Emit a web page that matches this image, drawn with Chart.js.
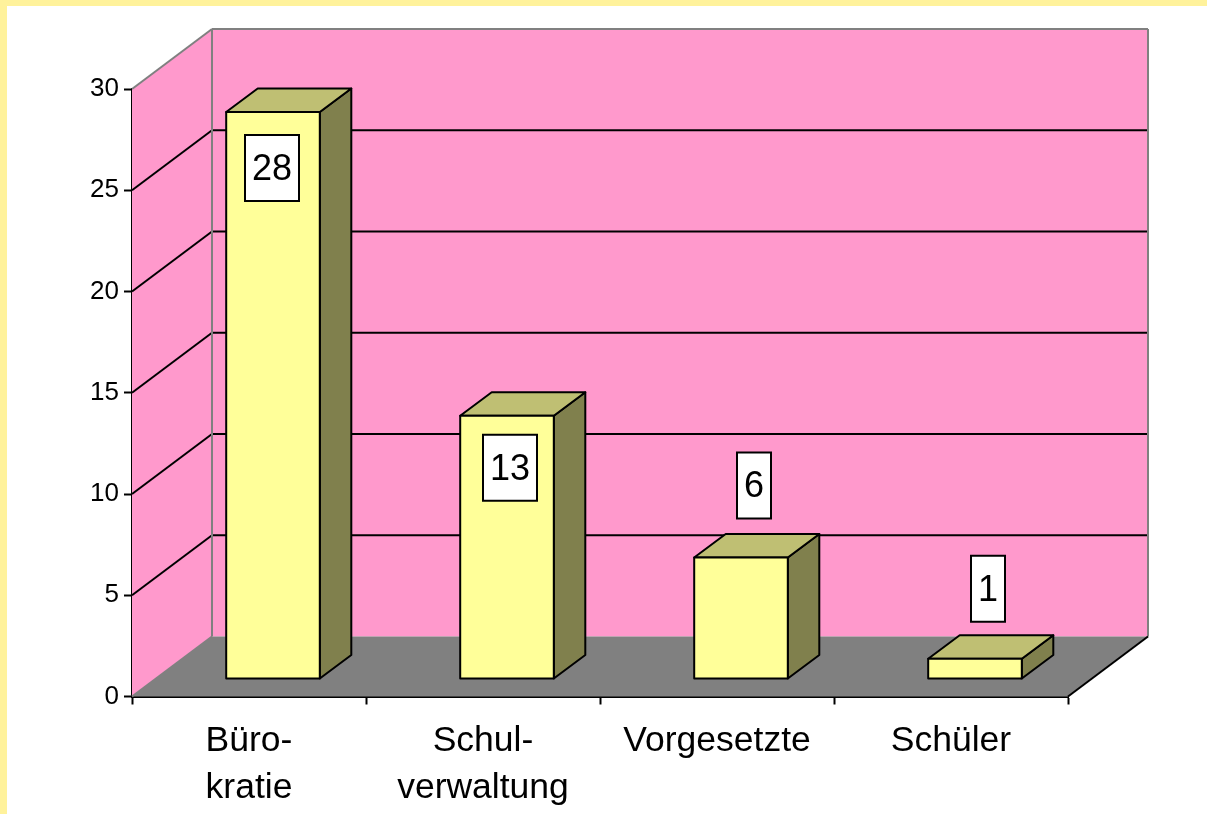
<!DOCTYPE html>
<html>
<head>
<meta charset="utf-8">
<style>
    html, body { margin: 0; height: 100%; overflow: hidden; background: #fff; }
    #strip-top { position: absolute; left: 0; top: 0; width: 100%; height: 6px; background: #fff29b; }
    #strip-left { position: absolute; left: 0; top: 0; width: 7px; height: 100%; background: #fff29b; }
    canvas { position: absolute; left: 0; top: 0; }
</style>
<script src="https://cdn.jsdelivr.net/npm/chart.js@4/dist/chart.umd.min.js"></script>
</head>
<body>
<div id="strip-top"></div>
<div id="strip-left"></div>
<canvas id="chart" width="1207" height="814"></canvas>
<script>
const categories = [['Büro-', 'kratie'], ['Schul-', 'verwaltung'], 'Vorgesetzte', 'Schüler'];
const counts = [28, 13, 6, 1];
const axisMax = 30;
const axisStep = 5;

// label boxes were moved by hand in the original, so each one has its own shift from the bar
const labelShiftX = [-1, 3, 13, 13];
const labelShiftY = [56, 52, -72, -70];

const FONT = '"Liberation Sans", Arial, sans-serif';

const wallDepthX = 80;
const wallDepthY = 60;
const barShiftX = 24;
const barShiftY = 17.5;
const barDepthX = 31.5;
const barDepthY = 23.5;
const LINE = 2;

const polygon = (ctx, points, fill, stroke, lineWidth) => {
    ctx.beginPath();
    points.forEach(([x, y], i) => i ? ctx.lineTo(x, y) : ctx.moveTo(x, y));
    ctx.closePath();
    ctx.fillStyle = fill;
    ctx.fill();
    if (stroke) {
        ctx.strokeStyle = stroke;
        ctx.lineWidth = lineWidth;
        ctx.lineJoin = 'round';
        ctx.stroke();
    }
};

const line = (ctx, x1, y1, x2, y2, color, width) => {
    ctx.beginPath();
    ctx.moveTo(x1, y1);
    ctx.lineTo(x2, y2);
    ctx.strokeStyle = color;
    ctx.lineWidth = width;
    ctx.stroke();
};

const walls = {
    id: 'walls',
    beforeDatasetsDraw(chart) {
        const { ctx, chartArea: { left, right, top, bottom }, scales: { y } } = chart;
        const dx = wallDepthX;
        const dy = wallDepthY;
        ctx.save();
        // back and side wall
        polygon(ctx, [[left + dx, top - dy], [right + dx, top - dy], [right + dx, bottom - dy], [left + dx, bottom - dy]], '#ff99cc');
        polygon(ctx, [[left, top], [left + dx, top - dy], [left + dx, bottom - dy], [left, bottom]], '#ff99cc');
        // gridlines
        y.ticks.forEach(tick => {
            if (tick.value === 0 || tick.value === axisMax) return;
            const py = y.getPixelForValue(tick.value);
            line(ctx, left, py, left + dx, py - dy, '#000', LINE);
            line(ctx, left + dx, py - dy, right + dx, py - dy, '#000', LINE);
        });
        // floor
        polygon(ctx, [[left, bottom], [left + dx, bottom - dy], [right + dx, bottom - dy], [right, bottom]], '#808080');
        // wall edges
        line(ctx, left, top, left + dx, top - dy, '#808080', LINE);
        line(ctx, left + dx, top - dy, right + dx, top - dy, '#808080', LINE);
        line(ctx, left + dx, top - dy, left + dx, bottom - dy, '#808080', LINE);
        line(ctx, right + dx, top - dy, right + dx, bottom - dy, '#808080', LINE);
        line(ctx, left, bottom, left + dx, bottom - dy, '#808080', LINE);
        line(ctx, right, bottom, right + dx, bottom - dy, '#000', LINE);
        ctx.restore();
    }
};

const bars3d = {
    id: 'bars3d',
    beforeDatasetDraw(chart, args) {
        const { ctx } = chart;
        ctx.save();
        ctx.translate(barShiftX, -barShiftY);
        args.meta.data.forEach(bar => {
            const x1 = bar.x - bar.width / 2;
            const x2 = bar.x + bar.width / 2;
            polygon(ctx, [[x2, bar.y], [x2 + barDepthX, bar.y - barDepthY], [x2 + barDepthX, bar.base - barDepthY], [x2, bar.base]], '#80804d', '#000', LINE);
            polygon(ctx, [[x1, bar.y], [x1 + barDepthX, bar.y - barDepthY], [x2 + barDepthX, bar.y - barDepthY], [x2, bar.y]], '#bfbf73', '#000', LINE);
        });
    },
    afterDatasetDraw(chart, args) {
        const { ctx } = chart;
        // outline of the front faces, still in the shifted bar plane
        args.meta.data.forEach(bar => {
            ctx.strokeStyle = '#000';
            ctx.lineWidth = LINE;
            ctx.strokeRect(bar.x - bar.width / 2, bar.y, bar.width, bar.base - bar.y);
        });
        ctx.restore();
        ctx.save();
        ctx.font = `36px ${FONT}`;
        ctx.textAlign = 'center';
        ctx.textBaseline = 'middle';
        args.meta.data.forEach((bar, i) => {
            const text = String(counts[i]);
            const cx = bar.x + barShiftX + labelShiftX[i];
            const cy = bar.y - barShiftY + labelShiftY[i];
            const w = text.length > 1 ? 54 : 34;
            ctx.fillStyle = '#fff';
            ctx.fillRect(cx - w / 2, cy - 33, w, 66);
            ctx.strokeStyle = '#000';
            ctx.lineWidth = LINE;
            ctx.strokeRect(cx - w / 2, cy - 33, w, 66);
            ctx.fillStyle = '#000';
            ctx.fillText(text, cx, cy + 2);
        });
        ctx.restore();
    }
};

new Chart(document.getElementById('chart'), {
    type: 'bar',
    data: {
        labels: categories,
        datasets: [{
            data: counts,
            backgroundColor: '#ffff99',
            borderWidth: 0,
            categoryPercentage: 0.4,
            barPercentage: 1,
            clip: false
        }]
    },
    options: {
        responsive: false,
        animation: false,
        events: [],
        layout: { padding: { left: 0, right: 139, top: 89, bottom: 0 } },
        plugins: { legend: { display: false }, tooltip: { enabled: false } },
        scales: {
            x: {
                afterFit: scale => { scale.height = 117.5; },
                border: { color: '#000', width: LINE },
                grid: { drawOnChartArea: false, color: '#000', tickLength: 8, tickWidth: LINE },
                ticks: {
                    color: '#000',
                    padding: 13,
                    maxRotation: 0,
                    autoSkip: false,
                    font: { family: FONT, size: 35.5, lineHeight: 1.33 }
                }
            },
            y: {
                min: 0,
                max: axisMax,
                afterFit: scale => { scale.width = 132; },
                border: { color: '#000', width: LINE },
                grid: { drawOnChartArea: false, color: '#000', tickLength: 8, tickWidth: LINE },
                ticks: {
                    stepSize: axisStep,
                    color: '#000',
                    padding: 5,
                    font: { family: FONT, size: 26 }
                }
            }
        }
    },
    plugins: [walls, bars3d]
});
</script>
</body>
</html>
